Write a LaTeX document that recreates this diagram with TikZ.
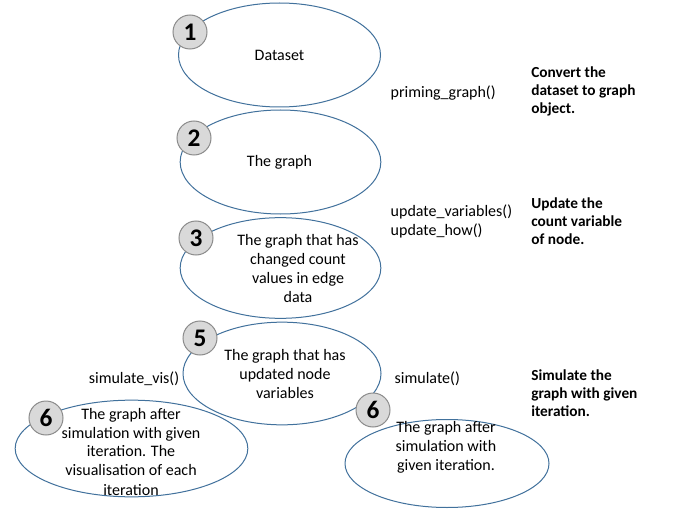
\documentclass[tikz,border=0pt]{standalone}
\usepackage{fontspec}
\setmainfont{Carlito}
\usetikzlibrary{shapes.geometric}
\definecolor{ell}{HTML}{41719C}
\definecolor{numfill}{HTML}{D9D9D9}
\definecolor{numdraw}{HTML}{8C8C8C}
\tikzset{
 stage/.style={ellipse, draw=ell, line width=0.75pt, inner sep=0pt},
 num/.style={circle, draw=numdraw, line width=0.75pt, fill=numfill, minimum size=25.5pt, inner sep=0pt, font=\fontsize{19}{19}\selectfont\bfseries},
 txt/.style={align=center, font=\fontsize{12}{14.25}\selectfont},
 code/.style={align=left, anchor=west, font=\fontsize{12}{14.25}\selectfont},
 note/.style={align=left, anchor=west, inner sep=0pt, font=\fontsize{11.5}{13.5}\selectfont\bfseries},
}
\begin{document}
\begin{tikzpicture}[x=0.75pt,y=-0.75pt]
\fill[white] (0,0) rectangle (678,524);
\useasboundingbox (0,0) rectangle (678,524);
% ellipses
\node[stage, minimum width=151.5pt, minimum height=78pt] (e1) at (279.5,55) {};
\node[stage, minimum width=150.5pt, minimum height=78pt] (e2) at (280.5,162) {};
\node[stage, minimum width=150.5pt, minimum height=75.5pt] (e3) at (280.5,268) {};
\node[stage, minimum width=148.5pt, minimum height=77pt] (e5) at (282,373.5) {};
\node[stage, minimum width=174.5pt, minimum height=72.5pt] (e6a) at (131.5,448.5) {};
\node[stage, minimum width=153pt, minimum height=66pt] (e6b) at (447,463.5) {};
% texts
\node[txt] (t1) at (279.5,55) {Dataset};
\node[txt] (t2) at (279.5,162) {The graph};
\node[txt] (t3) at (298,268.5) {The graph that has\\changed count\\values in edge\\data};
\node[txt] (t5) at (285,374) {The graph that has\\updated node\\variables};
\node[txt] (t6a) at (131,451.5) {The graph after\\simulation with given\\iteration. The\\visualisation of each\\iteration};
\node[txt] (t6b) at (446,447) {The graph after\\simulation with\\given iteration.};
% number badges
\node[num] (n1) at (190,32) {1};
\node[num] (n2) at (194,138) {2};
\node[num] (n3) at (196,238) {3};
\node[num] (n5) at (200,338) {5};
\node[num] (n6a) at (46,418) {6};
\node[num] (n6b) at (373,410) {6};
% function labels
\node[code] (c1) at (386,93) {priming\_graph()};
\node[code] (c2) at (386,221.5) {update\_variables()\\update\_how()};
\node[code] (c3) at (390,379) {simulate()};
\node[code, anchor=center] (c4) at (134,379) {simulate\_vis()};
% notes
\node[note] (d1) at (531,91) {Convert the\\dataset to graph\\object.};
\node[note] (d2) at (531,221) {Update the\\count variable\\of node.};
\node[note] (d3) at (531,393) {Simulate the\\graph with given\\iteration.};
\end{tikzpicture}
\end{document}
